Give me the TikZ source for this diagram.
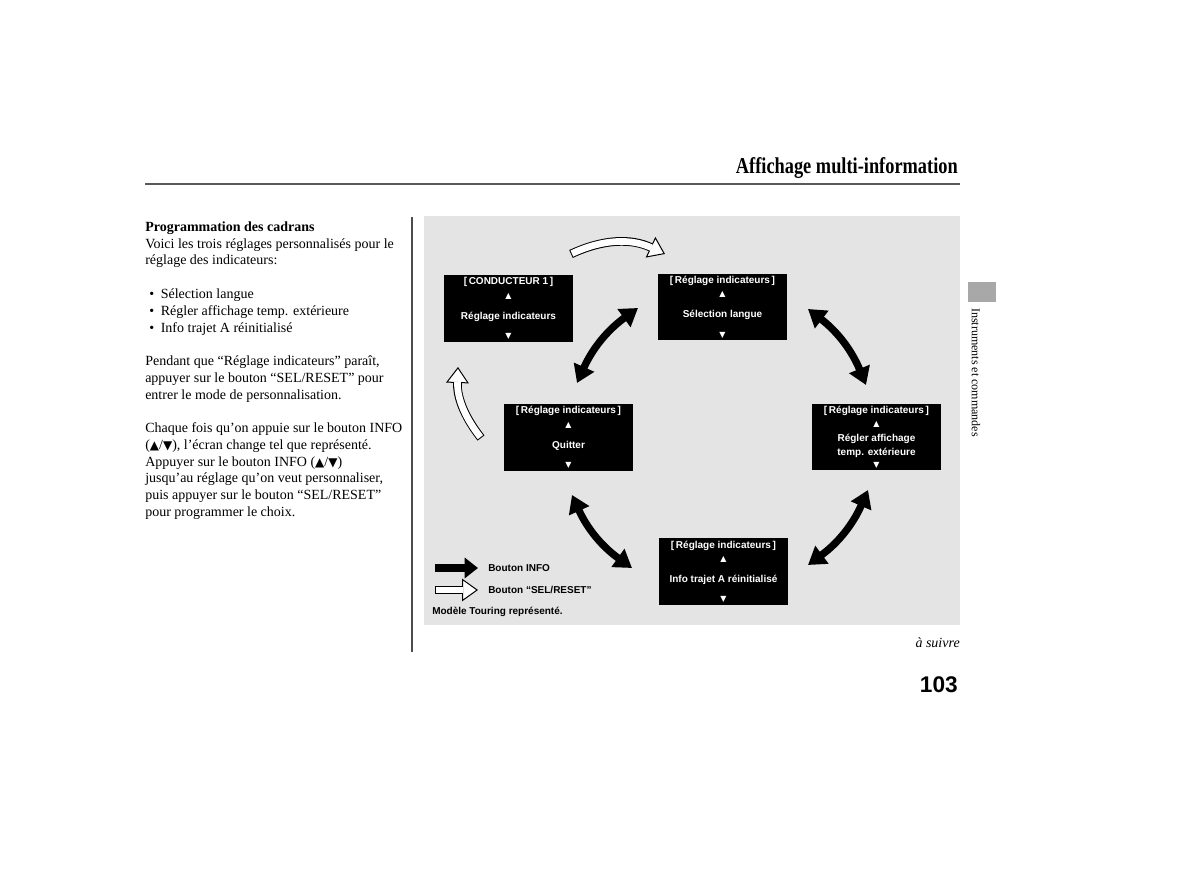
\documentclass[tikz,border=0pt]{standalone}
\usepackage{fontspec}
\usepackage{graphicx}
\setmainfont{Liberation Serif}
\setsansfont{Liberation Sans}
\newfontfamily\symfont{DejaVu Sans}
\usetikzlibrary{arrows.meta,calc,positioning}

\newcommand{\tri}[2]{{\symfont\fontsize{#1}{#1}\selectfont #2}}

\tikzset{
  disp/.style={fill=black, minimum width=97pt, minimum height=50pt, inner sep=0pt},
  disptxt/.style={text=white, font=\sffamily\bfseries\fontsize{7.5}{10.5}\selectfont, inner sep=0pt, align=center},
  infoarrow/.style={line width=5.5pt, {Triangle[length=13pt,width=16pt]}-{Triangle[length=13pt,width=16pt]}},
  selouter/.style={line width=6.5pt, -{Triangle[length=12pt,width=17pt,fill=white,line width=0.75pt]}},
  selinner/.style={white, line width=5pt, shorten >=11pt, shorten <=0.75pt},
  legendtxt/.style={font=\sffamily\bfseries\fontsize{7.5}{9}\selectfont, inner sep=0pt, anchor=west},
}

% one screen of the display: name, centre, header, label
\newcommand{\dispbox}[4]{%
  \node[disp] (#1) at (#2) {};
  \node[disptxt] (#1-head) at ($(#1.north)+(0,-7.5)$) {#3};
  \node[disptxt] (#1-up) at ($(#1.north)+(0,-21.5)$) {\tri{6}{▲}};
  \node[disptxt] (#1-lbl) at ($(#1.north)+(0,-42)$) {#4};
  \node[disptxt] (#1-down) at ($(#1.south)+(0,5.5)$) {\tri{6}{▼}};
}
% white SEL/RESET arrow: from, to, bend
\newcommand{\selarrow}[3]{%
  \draw[selouter] (#1) to[#3] (#2);
  \draw[selinner] (#1) to[#3] (#2);
}

\begin{document}
\begin{tikzpicture}[x=0.75pt,y=0.75pt]
  \fill[white] (0,0) rectangle (1200,892);
  \useasboundingbox (0,0) rectangle (1200,892);

  % page head
  \node[anchor=base east, inner sep=0pt, font=\bfseries\fontsize{17}{17}\selectfont] (title) at (958,718)
    {\scalebox{0.81}[1]{Affichage multi-information}};
  \draw[gray!70!black, line width=1.2pt] (145,708) -- (960,708);
  \draw[gray!60!black, line width=0.8pt] (412,675) -- (412,240);

  % side tab
  \fill[gray!68] (968,610) rectangle (996,590);
  \node[rotate=-90, anchor=west, inner sep=0pt, font=\fontsize{9}{9}\selectfont] (tab) at (976,584)
    {Instruments et commandes};

  % left column
  \node[anchor=north west, inner sep=0pt, align=left, font=\fontsize{10.5}{12.57}\selectfont] (body) at (145,670.5) {%
    \textbf{Programmation des cadrans}\\
    Voici les trois réglages personnalisés pour le\\
    réglage des indicateurs:\\[12.57pt]
    \hspace*{3pt}\textbullet\hspace{5pt}Sélection langue\\
    \hspace*{3pt}\textbullet\hspace{5pt}Régler affichage temp. extérieure\\
    \hspace*{3pt}\textbullet\hspace{5pt}Info trajet A réinitialisé\\[12.57pt]
    Pendant que “Réglage indicateurs” paraît,\\
    appuyer sur le bouton “SEL/RESET” pour\\
    entrer le mode de personnalisation.\\[12.57pt]
    Chaque fois qu’on appuie sur le bouton INFO\\
    (\tri{9}{▲}/\tri{9}{▼}), l’écran change tel que représenté.\\
    Appuyer sur le bouton INFO (\tri{9}{▲}/\tri{9}{▼})\\
    jusqu’au réglage qu’on veut personnaliser,\\
    puis appuyer sur le bouton “SEL/RESET”\\
    pour programmer le choix.};

  % diagram panel
  \fill[gray!21] (424,676) rectangle (960,267);

  \dispbox{cond}{508.5,583.5}{[\,CONDUCTEUR 1\,]}{Réglage indicateurs}
  \dispbox{sel}{722.5,585}{[\,Réglage indicateurs\,]}{Sélection langue}
  \dispbox{quit}{568.5,454.5}{[\,Réglage indicateurs\,]}{Quitter}
  \dispbox{regl}{876.5,455}{[\,Réglage indicateurs\,]}{Régler affichage\\temp. extérieure}
  \dispbox{info}{723.5,320.5}{[\,Réglage indicateurs\,]}{Info trajet A réinitialisé}

  % INFO arrows
  \coordinate (a1s) at (577,509);  \coordinate (a1e) at (638,584);
  \coordinate (a2s) at (808,583);  \coordinate (a2e) at (866,507);
  \coordinate (a3s) at (572,397);  \coordinate (a3e) at (632,324);
  \coordinate (a4s) at (808,327);  \coordinate (a4e) at (868,402);
  \draw[infoarrow] (a1s) to[bend left=15] (a1e);
  \draw[infoarrow] (a2s) to[bend left=15] (a2e);
  \draw[infoarrow] (a3s) to[bend right=15] (a3e);
  \draw[infoarrow] (a4s) to[bend right=15] (a4e);

  % SEL/RESET arrows
  \coordinate (w1s) at (571,638);  \coordinate (w1e) at (665,638);
  \coordinate (w2s) at (481,454);  \coordinate (w2e) at (458,525);
  \selarrow{w1s}{w1e}{bend left=25}
  \selarrow{w2s}{w2e}{bend left=20}

  % legend
  \coordinate (lg1s) at (435,324); \coordinate (lg1e) at (478,324);
  \coordinate (lg2s) at (435,302); \coordinate (lg2e) at (478,302);
  \draw[line width=6pt, -{Triangle[length=10pt,width=15pt]}] (lg1s) -- (lg1e);
  \selarrow{lg2s}{lg2e}{bend left=0}
  \node[legendtxt] (lginfo) at (488,324) {Bouton INFO};
  \node[legendtxt] (lgsel) at (488,302) {Bouton “SEL/RESET”};
  \node[legendtxt] (model) at (432,280) {Modèle Touring représenté.};

  % page foot
  \node[anchor=base east, inner sep=0pt, font=\itshape\fontsize{10.5}{12}\selectfont] (suite) at (960,244) {à suivre};
  \node[anchor=base east, inner sep=0pt, font=\sffamily\bfseries\fontsize{17}{17}\selectfont] (page) at (958,199) {103};
\end{tikzpicture}
\end{document}
